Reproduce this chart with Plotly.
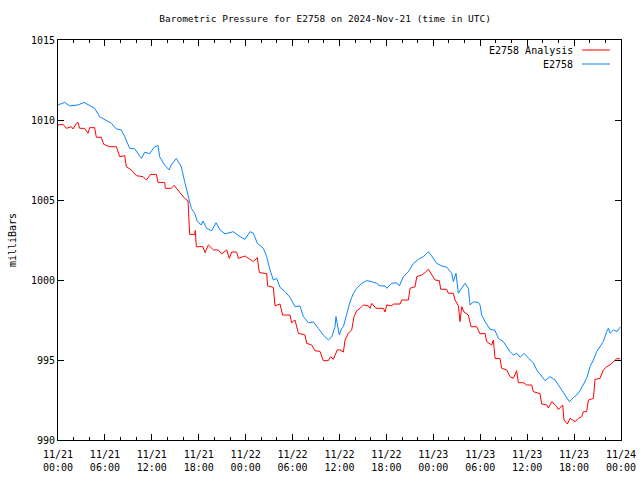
import pandas as pd
import plotly.graph_objects as go

# hours since 2024-11-21 00:00 UTC, pressure in mb
analysis_hours = [0.0, 0.64, 1.07, 1.71, 1.92, 2.34, 2.56, 2.77, 3.41, 3.84, 4.05, 4.69, 4.90, 5.54, 5.84,
                  6.61, 7.46, 7.89, 8.53, 8.74, 9.38, 10.02, 10.87, 11.3, 11.85, 12.58, 12.79, 13.64, 13.73,
                  14.49, 14.84, 15.56, 16.2, 16.63, 16.71, 16.84, 17.48, 17.56, 17.69, 18.54,
                  18.8, 19.23, 19.87, 20.5, 20.93, 21.57, 21.91, 22.21, 22.85, 23.06, 23.92, 24.55, 24.98,
                  25.49, 25.75, 26.69, 26.81, 27.54, 27.75, 28.39, 28.73, 29.67, 29.88, 30.31, 30.74, 31.59,
                  31.8, 32.44, 32.87, 33.51, 33.93, 34.57, 34.87, 35.21, 35.72, 36.07, 36.5, 36.71, 37.14,
                  37.56, 37.86, 38.2, 38.63, 39.05, 39.69, 39.9, 40.12, 40.67, 41.61, 41.83, 42.04, 42.68,
                  42.89, 43.74, 43.96, 44.81, 45.02, 45.66, 45.88, 46.51, 46.94, 47.37, 47.79, 48.22, 48.77,
                  48.94, 49.71, 49.92, 50.56, 50.78, 51.2, 51.42, 51.63, 51.93, 52.48, 52.82, 53.55, 53.97,
                  54.61, 54.82, 55.46, 55.68, 55.89, 56.53, 56.74, 57.38, 57.81, 58.23, 58.66, 58.87, 59.51,
                  59.94, 60.58, 60.79, 61.64, 61.86, 62.5, 62.71, 63.14, 63.78, 63.99, 64.54, 64.71, 65.14,
                  65.48, 66.12, 66.55, 66.97, 67.19, 67.61, 67.83, 68.47, 68.68, 69.32, 69.74, 70.17, 70.6,
                  70.81, 71.24, 71.45, 71.88]
analysis_mb = [1009.69, 1009.73, 1009.48, 1009.58, 1009.44, 1009.79, 1009.85, 1009.48, 1009.48, 1009.17,
               1009.52, 1009.52, 1008.92, 1008.92, 1008.48, 1008.33, 1008.33, 1007.71, 1007.77, 1007.08,
               1006.88, 1006.52, 1006.46, 1006.25, 1006.6, 1006.6, 1006.1, 1006.1, 1005.73, 1005.73,
               1005.92, 1005.52, 1005.1, 1004.94, 1004.06, 1002.85, 1002.85, 1003.1, 1002.08, 1002.08,
               1001.71, 1002.19, 1001.88, 1001.88, 1001.63, 1001.88, 1001.35, 1001.75, 1001.75, 1001.35,
               1001.5, 1001.29, 1001.15, 1001.4, 1000.46, 1000.4, 999.63, 999.54, 998.38, 998.5, 997.81,
               997.81, 997.33, 997.5, 996.67, 996.56, 996.04, 995.94, 995.58, 995.54, 994.96, 994.96,
               995.21, 995.04, 995.63, 995.63, 995.5, 996.25, 996.67, 996.88, 997.71, 998.08, 998.23,
               998.44, 998.38, 998.23, 998.54, 998.23, 998.23, 998.0, 998.44, 998.38, 998.5, 998.5,
               998.75, 998.75, 999.48, 999.58, 1000.21, 1000.31, 1000.46, 1000.67, 1000.31, 1000.0,
               999.96, 999.42, 999.42, 999.17, 999.17, 998.75, 998.38, 997.4, 998.33, 998.0, 997.81,
               997.08, 997.08, 996.63, 996.67, 996.15, 995.94, 996.25, 995.1, 995.1, 994.48, 994.38,
               993.96, 993.85, 994.33, 993.58, 993.58, 993.44, 993.44, 993.02, 992.9, 992.25, 992.19,
               992.0, 992.4, 992.1, 991.9, 992.19, 991.25, 991.0, 991.35, 991.15, 991.35, 991.46,
               991.77, 991.77, 992.5, 992.6, 993.79, 993.85, 994.38, 994.58, 994.69, 994.79, 995.0,
               995.08, 995.08]

station_hours = [0.0, 0.85, 1.49, 2.56, 3.33, 4.05, 4.69, 5.33, 6.18, 6.82, 7.46, 8.10, 8.53, 9.17, 9.81,
                 10.66, 11.08, 11.72, 12.36, 12.79, 13.0, 13.64, 14.2, 14.49, 15.13, 15.77, 16.2, 16.63,
                 17.05, 17.48, 17.82, 18.33, 18.54, 19.01, 19.65, 20.21, 20.72, 21.36, 21.78, 22.42, 23.28,
                 23.92, 24.55, 24.98, 25.49, 26.26, 26.69, 27.11, 27.54, 27.97, 28.39, 29.03, 29.67, 30.31,
                 30.95, 31.38, 32.02, 32.65, 33.29, 33.93, 34.57, 35.0, 35.43, 35.55, 35.98, 36.28, 36.5,
                 36.92, 37.35, 37.78, 38.2, 38.84, 39.48, 40.12, 40.76, 41.19, 41.83, 42.04, 42.68, 43.32,
                 43.66, 44.17, 44.81, 45.45, 46.09, 46.73, 47.37, 47.79, 48.43, 49.07, 49.71, 50.35, 50.56,
                 50.9, 51.2, 51.63, 52.06, 52.48, 52.7, 53.12, 53.76, 53.97, 54.18, 54.61, 55.25, 55.89,
                 56.32, 56.95, 57.38, 57.81, 58.23, 58.66, 59.09, 59.6, 60.18, 60.79, 61.22, 61.86, 62.29,
                 62.93, 63.57, 63.99, 64.42, 64.85, 65.4, 65.91, 66.34, 66.76, 67.19, 67.61, 68.04, 68.47,
                 68.89, 69.32, 69.74, 70.17, 70.38, 70.6, 71.05, 71.48, 71.9]
station_mb = [1010.94, 1011.1, 1010.88, 1010.94, 1011.1, 1010.88, 1010.73, 1010.2, 1010.0, 1009.8, 1009.44,
              1009.38, 1008.96, 1008.23, 1008.2, 1007.6, 1007.98, 1007.9, 1008.33, 1008.4, 1007.7, 1007.19,
              1006.88, 1007.19, 1007.6, 1007.08, 1006.15, 1005.31, 1004.48, 1004.17, 1003.65, 1003.44,
              1003.69, 1003.23, 1003.08, 1003.58, 1003.13, 1002.88, 1002.93, 1003.02, 1002.71, 1002.54,
              1003.02, 1002.93, 1002.29, 1001.98, 1001.46, 1000.63, 1000.0, 1000.1, 999.54, 999.27, 998.92,
              998.33, 998.38, 997.71, 997.33, 997.38, 996.98, 996.56, 996.25, 996.44, 997.08, 997.71,
              996.56, 996.98, 997.08, 997.81, 998.65, 999.17, 999.48, 999.79, 999.96, 999.9, 999.79,
              999.63, 999.63, 999.48, 999.79, 999.83, 999.63, 1000.21, 1000.52, 1001.04, 1001.29, 1001.46,
              1001.77, 1001.5, 1001.04, 1000.88, 1000.8, 1000.42, 999.9, 1000.42, 999.17, 999.5, 999.79,
              999.48, 998.44, 998.63, 998.6, 998.44, 997.81, 997.4, 996.92, 996.85, 996.35, 996.15, 995.83,
              995.52, 995.31, 995.42, 995.17, 995.42, 995.1, 994.83, 994.38, 994.0, 993.71, 993.96, 993.75,
              993.44, 993.13, 992.81, 992.4, 992.65, 992.81, 993.08, 993.44, 993.85, 994.58, 995.0, 995.52,
              995.83, 996.15, 996.77, 996.98, 996.67, 996.88, 996.77, 997.08]

tick_hours = [0, 6, 12, 18, 24, 30, 36, 42, 48, 54, 60, 66, 72]
tick_labels = ["11/21<br>00:00", "11/21<br>06:00", "11/21<br>12:00", "11/21<br>18:00",
               "11/22<br>00:00", "11/22<br>06:00", "11/22<br>12:00", "11/22<br>18:00",
               "11/23<br>00:00", "11/23<br>06:00", "11/23<br>12:00", "11/23<br>18:00",
               "11/24<br>00:00"]
y_ticks = [990, 995, 1000, 1005, 1010, 1015]

start = pd.Timestamp("2024-11-21 00:00")
def to_time(h):
    return start + pd.to_timedelta(pd.Series(h, dtype=float), unit="h")

FONT = "DejaVu Sans Mono"
RED = "#ff0000"
BLUE = "#0a84ff"

fig = go.Figure()
fig.add_trace(go.Scatter(x=to_time(analysis_hours), y=analysis_mb, mode="lines",
                         name="E2758 Analysis", line=dict(color=RED, width=1)))
fig.add_trace(go.Scatter(x=to_time(station_hours), y=station_mb, mode="lines",
                         name="E2758", line=dict(color=BLUE, width=1)))

fig.update_layout(
    width=640, height=480,
    margin=dict(l=58, r=19, t=40, b=40, autoexpand=False),
    paper_bgcolor="white", plot_bgcolor="white",
    showlegend=False,
    font=dict(family=FONT, size=10, color="black"),
    title=dict(text="Barometric Pressure for E2758 on 2024-Nov-21 (time in UTC)",
               x=0.508, xref="container", xanchor="center",
               y=1 - 19 / 480, yref="container", yanchor="middle", automargin=False,
               font=dict(family=FONT, size=9.5, color="black")),
)
fig.update_xaxes(
    type="date", automargin=False,
    range=[to_time([0])[0], to_time([72])[0]],
    tickvals=to_time(tick_hours), ticktext=tick_labels,
    ticks="inside", ticklen=6, tickcolor="black", tickwidth=1,
    minor=dict(dtick=2 * 3600 * 1000, ticks="inside", ticklen=3, tickcolor="black", tickwidth=1),
    showline=True, linecolor="black", linewidth=1, mirror="ticks",
    showgrid=False, zeroline=False,
    ticklabelstandoff=5,
    tickfont=dict(family=FONT, size=10, color="black"),
)
fig.update_yaxes(
    range=[990, 1015], tickvals=y_ticks, automargin=False,
    ticks="inside", ticklen=6, tickcolor="black", tickwidth=1,
    showline=True, linecolor="black", linewidth=1, mirror="ticks",
    showgrid=False, zeroline=False,
    title=dict(text="milliBars", font=dict(family=FONT, size=10, color="black"), standoff=12),
    tickfont=dict(family=FONT, size=10, color="black"),
)

# legend (gnuplot style: text right-aligned, sample line to the right)
legend_items = [("E2758 Analysis", RED, 1 - 10 / 400), ("E2758", BLUE, 1 - 24 / 400)]
for text, color, yy in legend_items:
    fig.add_annotation(text=text, xref="paper", yref="paper", x=(575 - 58) / 563, y=yy,
                       xanchor="right", yanchor="middle", showarrow=False,
                       font=dict(family=FONT, size=10, color="black"))
    fig.add_shape(type="line", xref="paper", yref="paper",
                  x0=(582 - 58) / 563, x1=(610 - 58) / 563, y0=yy, y1=yy,
                  line=dict(color=color, width=1))

fig.write_html("out.html", config={"displayModeBar": False, "staticPlot": True},
               post_script="document.body.style.margin='0';document.body.style.overflow='hidden';")
